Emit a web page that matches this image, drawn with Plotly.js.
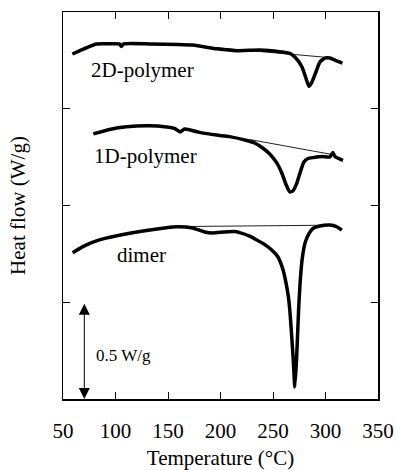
<!DOCTYPE html>
<html>
<head>
<meta charset="utf-8">
<script src="https://cdn.plot.ly/plotly-3.0.1.min.js"></script>
<style>html,body{margin:0;padding:0;background:#fff;}#chart{width:396px;height:470px;}</style>
</head>
<body>
<div id="chart"></div>
<script>
// Temperature (°C) and heat flow (W/g, arbitrary offset)
var polymer2D_T = [58.9, 81.8, 94.2, 103.7, 105.6, 107.6, 132.4, 173.4, 196.3, 215.4, 237.3, 256.4, 266.0, 271.7, 277.5, 281.3, 284.2, 287.1, 290.9, 294.7, 299.5, 304.2, 310.0, 316.1];
var polymer2D_Y = [1.783, 1.835, 1.836, 1.835, 1.822, 1.835, 1.835, 1.829, 1.810, 1.800, 1.804, 1.795, 1.786, 1.762, 1.717, 1.659, 1.616, 1.638, 1.690, 1.742, 1.762, 1.762, 1.749, 1.736];
var polymer2D_baseT = [192.8, 302.3];
var polymer2D_baseY = [1.817, 1.765];

var polymer1D_T = [78.9, 94.2, 110.4, 132.4, 148.6, 156.2, 161.5, 165.8, 180.1, 196.3, 208.7, 225.0, 232.6, 240.2, 246.9, 253.6, 258.4, 262.2, 266.0, 268.9, 272.7, 276.0, 279.4, 283.2, 288.9, 296.5, 304.2, 307.0, 309.0, 316.6];
var polymer1D_Y = [1.370, 1.393, 1.407, 1.412, 1.406, 1.399, 1.380, 1.395, 1.378, 1.364, 1.356, 1.336, 1.323, 1.297, 1.266, 1.220, 1.168, 1.111, 1.070, 1.075, 1.116, 1.173, 1.225, 1.243, 1.248, 1.253, 1.251, 1.274, 1.253, 1.233];
var polymer1D_baseT = [227.8, 309.0];
var polymer1D_baseY = [1.341, 1.261];

var dimer_T = [59.2, 70.3, 84.6, 116.1, 148.6, 158.1, 173.4, 184.9, 192.5, 204.0, 213.5, 218.3, 227.8, 234.5, 242.2, 248.8, 254.6, 259.6, 262.2, 264.4, 266.0, 267.6, 269.3, 270.8, 272.4, 273.6, 274.6, 276.0, 277.9, 280.8, 284.1, 288.0, 294.6, 304.2, 310.4, 315.6];
var dimer_Y = [0.756, 0.791, 0.822, 0.859, 0.885, 0.890, 0.884, 0.863, 0.858, 0.863, 0.865, 0.860, 0.842, 0.822, 0.798, 0.770, 0.735, 0.667, 0.605, 0.537, 0.460, 0.341, 0.202, 0.062, 0.202, 0.357, 0.486, 0.615, 0.729, 0.811, 0.853, 0.881, 0.894, 0.899, 0.891, 0.873];
var dimer_baseT = [158.1, 299.4];
var dimer_baseY = [0.891, 0.898];

var xTicks = [50, 100, 150, 200, 250, 300, 350];
var yTicks = [0, 0.5, 1.0, 1.5, 2.0];
var scaleBarT = 70.3;
var scaleBarY = [0, 0.5];
var curveLabels = ['2D-polymer', '1D-polymer', 'dimer'];
var labelT = [125.7, 128.4, 124.4];
var labelY = [1.700, 1.254, 0.746];

var serif = 'Liberation Serif, Times New Roman, serif';

function thick(x, y) {
  return {x: x, y: y, mode: 'lines', line: {color: '#000', width: 3.5, shape: 'spline', smoothing: 0.5}, hoverinfo: 'skip', showlegend: false};
}
function thin(x, y) {
  return {x: x, y: y, mode: 'lines', line: {color: '#222', width: 1}, hoverinfo: 'skip', showlegend: false};
}

var data = [
  thin(polymer2D_baseT, polymer2D_baseY), thick(polymer2D_T, polymer2D_Y),
  thin(polymer1D_baseT, polymer1D_baseY), thick(polymer1D_T, polymer1D_Y),
  thin(dimer_baseT, dimer_baseY), thick(dimer_T, dimer_Y)
];

var annotations = curveLabels.map(function (t, i) {
  return {x: labelT[i], y: labelY[i], xref: 'x', yref: 'y', text: t, showarrow: false,
          font: {family: serif, size: 21, color: '#000'}, xanchor: 'center', yanchor: 'middle'};
});
annotations.push({
  x: scaleBarT, y: scaleBarY[0], ax: scaleBarT, ay: scaleBarY[1], xref: 'x', yref: 'y', axref: 'x', ayref: 'y',
  text: '', showarrow: true, arrowside: 'end+start', arrowhead: 2, startarrowhead: 2,
  arrowsize: 2.2, startarrowsize: 2.2, arrowwidth: 1, arrowcolor: '#000', standoff: 0, startstandoff: 0
});
annotations.push({x: 107.7, y: 0.227, xref: 'x', yref: 'y', text: '0.5 W/g', showarrow: false,
  font: {family: serif, size: 17, color: '#000'}, xanchor: 'center', yanchor: 'middle'});

var layout = {
  width: 396, height: 470,
  margin: {l: 63, r: 18, t: 12, b: 71},
  paper_bgcolor: '#fff', plot_bgcolor: '#fff',
  font: {family: serif, color: '#000'},
  xaxis: {
    range: [50, 350], tickvals: xTicks, ticktext: xTicks.map(String),
    ticks: 'inside', ticklen: 7, tickwidth: 1, tickcolor: '#000',
    showline: true, linecolor: '#000', linewidth: 1.5, mirror: 'ticks',
    showgrid: false, zeroline: false,
    tickfont: {family: serif, size: 21, color: '#000'},
    ticklabelstandoff: 12,
    title: {text: 'Temperature (°C)', font: {family: serif, size: 21, color: '#000'}, standoff: 12}
  },
  yaxis: {
    range: [0, 2], tickvals: yTicks, showticklabels: false,
    ticks: 'inside', ticklen: 7, tickwidth: 1, tickcolor: '#000',
    showline: true, linecolor: '#000', linewidth: 1.5, mirror: 'ticks',
    showgrid: false, zeroline: false,
    title: {text: 'Heat flow (W/g)', font: {family: serif, size: 21, color: '#000'}, standoff: 30}
  },
  annotations: annotations
};

Plotly.newPlot('chart', data, layout, {staticPlot: true, displayModeBar: false});
</script>
</body>
</html>
